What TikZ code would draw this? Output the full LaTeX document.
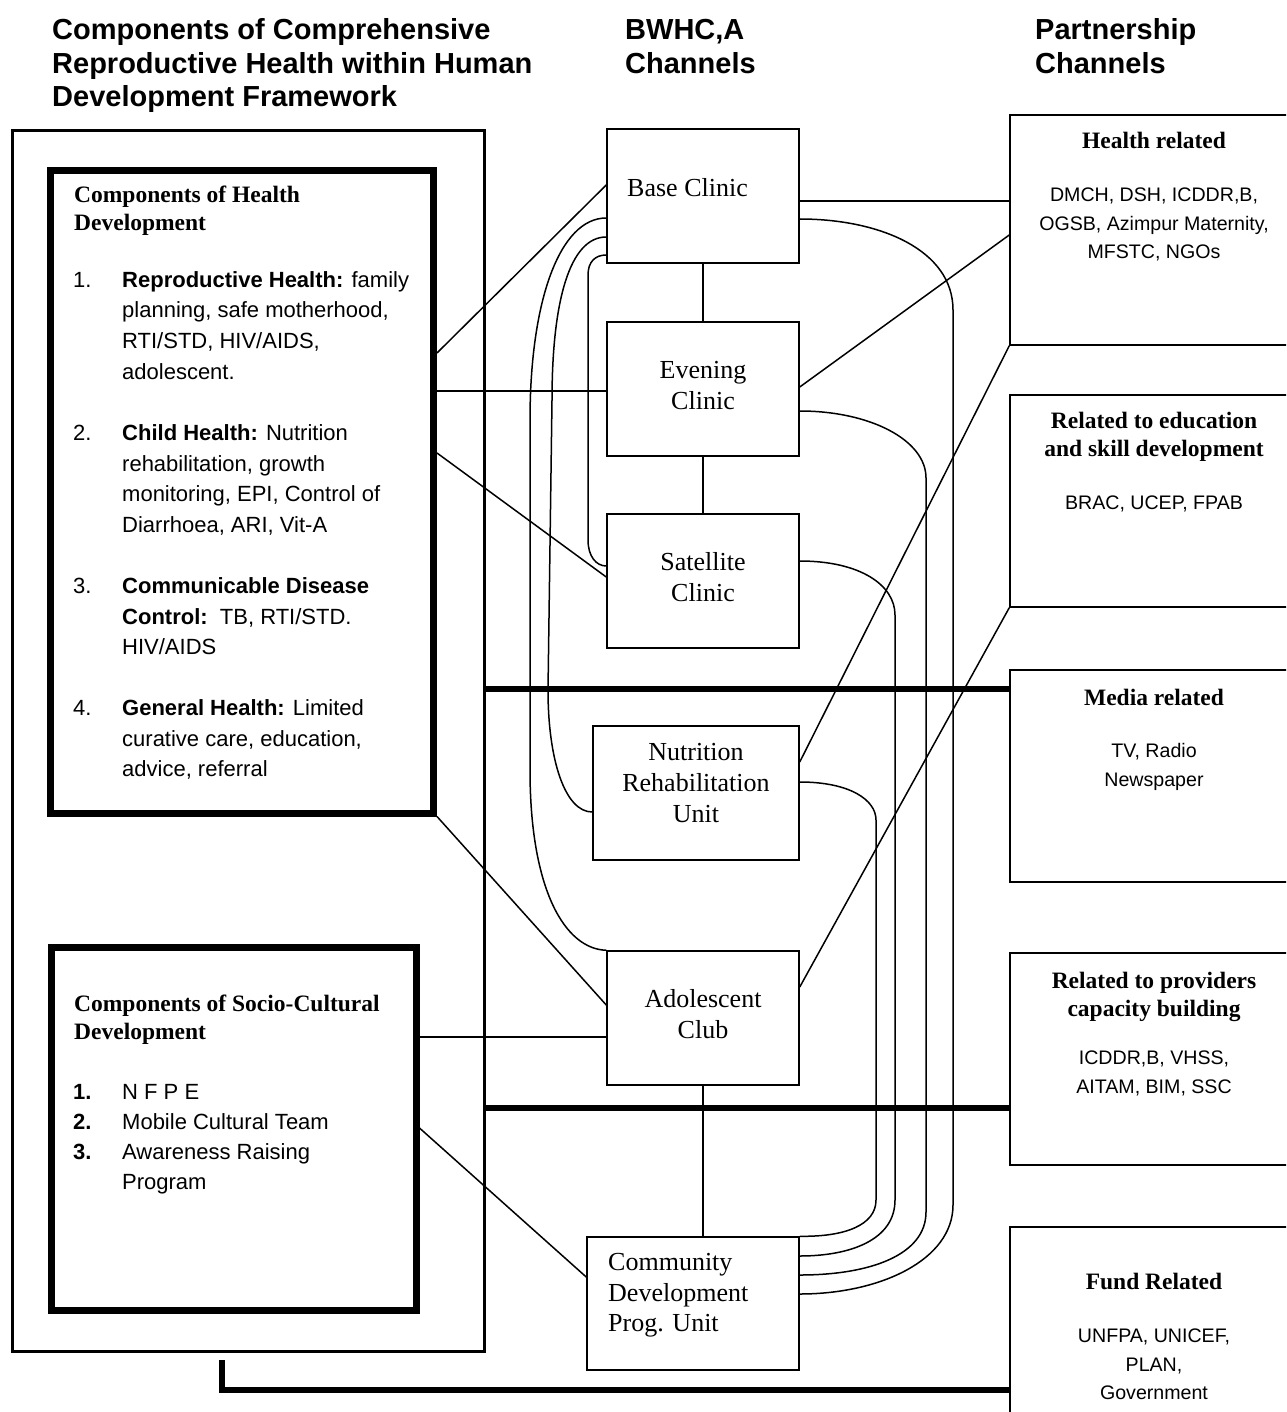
\documentclass[tikz,border=0pt]{standalone}
\usepackage{fontspec}
\setmainfont{Liberation Serif}
\setsansfont{Liberation Sans}
\begin{document}
\begin{tikzpicture}[x=1pt,y=-1pt,
  every node/.style={inner sep=0pt},
  box/.style={draw, line width=1.5pt},
  thickbox/.style={draw, line width=7pt},
  outerbox/.style={draw, line width=3pt},
  conn/.style={line width=1.5pt},
  heavy/.style={line width=5.5pt},
  ttl/.style={font=\fontsize{29}{33.5}\selectfont\sffamily\bfseries, align=left, anchor=north west},
  midtxt/.style={font=\fontsize{26}{31}\selectfont, align=center, anchor=north},
  hdg/.style={font=\fontsize{23.5}{28}\selectfont\bfseries, align=left, anchor=north west},
  lst/.style={font=\fontsize{22}{30.7}\selectfont\sffamily, align=left, anchor=north west},
  slst/.style={font=\fontsize{22}{30}\selectfont\sffamily, align=left, anchor=north west},
  rtitle/.style={font=\fontsize{23.5}{28}\selectfont\bfseries, align=center, anchor=north},
  rbody/.style={font=\fontsize{19.6}{28.5}\selectfont\sffamily, align=center, anchor=north},
]
\clip (0,0) rectangle (1286,1412);

% titles
\node[ttl] (t1) at (52,16) {\strut Components of Comprehensive\\Reproductive Health within Human\\Development Framework};
\node[ttl] (t2) at (625,16) {\strut BWHC,A\\Channels};
\node[ttl] (t3) at (1035,16) {\strut Partnership\\Channels};

% left boxes
\node[outerbox, minimum width=472pt, minimum height=1220pt] (outer) at (248,741) {};
\node[thickbox, minimum width=383pt, minimum height=642.5pt] (hd) at (242,491.75) {};
\node[thickbox, minimum width=365pt, minimum height=363pt] (sc) at (233.5,1128.5) {};

\node[hdg] (hdh) at (74,182.4) {\strut Components of Health\\Development};
\node[lst] (n1) at (73,265.5) {\strut 1.};
\node[lst] (i1) at (122,265.5) {\strut \textbf{Reproductive Health:} family\\planning, safe motherhood,\\RTI/STD, HIV/AIDS,\\adolescent.};
\node[lst] (n2) at (73,418.8) {\strut 2.};
\node[lst] (i2) at (122,418.8) {\strut \textbf{Child Health:} Nutrition\\rehabilitation, growth\\monitoring, EPI, Control of\\Diarrhoea, ARI, Vit-A};
\node[lst] (n3) at (73,571.8) {\strut 3.};
\node[lst] (i3) at (122,571.8) {\strut \textbf{Communicable Disease}\\\textbf{Control:}\ \ TB, RTI/STD.\\HIV/AIDS};
\node[lst] (n4) at (73,693.8) {\strut 4.};
\node[lst] (i4) at (122,693.8) {\strut \textbf{General Health:} Limited\\curative care, education,\\advice, referral};

\node[hdg] (sch) at (74,991.4) {\strut Components of Socio-Cultural\\Development};
\node[slst, font=\fontsize{22}{30}\selectfont\sffamily\bfseries] (sn) at (73,1078.3) {\strut 1.\\2.\\3.};
\node[slst] (st) at (122,1078.3) {\strut N F P E\\Mobile Cultural Team\\Awareness Raising\\Program};

% middle boxes
\node[box, minimum width=192pt, minimum height=134pt] (base) at (703,196) {};
\node[box, minimum width=192pt, minimum height=134pt] (even) at (703,389) {};
\node[box, minimum width=192pt, minimum height=134pt] (sat) at (703,581) {};
\node[box, minimum width=206pt, minimum height=134pt] (nut) at (696,793) {};
\node[box, minimum width=192pt, minimum height=134pt] (ado) at (703,1018) {};
\node[box, minimum width=212pt, minimum height=133pt] (cdu) at (693,1303.5) {};

\node[midtxt, anchor=north west] (baset) at (627,174.3) {\strut Base Clinic};
\node[midtxt] (event) at (703,356.3) {\strut Evening\\Clinic};
\node[midtxt] (satt) at (703,548.3) {\strut Satellite\\Clinic};
\node[midtxt] (nutt) at (696,738.3) {\strut Nutrition\\Rehabilitation\\Unit};
\node[midtxt] (adot) at (703,985.3) {\strut Adolescent\\Club};
\node[midtxt, align=left, anchor=north west, font=\fontsize{26}{30.3}\selectfont] (cdut) at (608,1249.3) {\strut Community\\Development\\Prog. Unit};

% right boxes
\node[box, minimum width=290pt, minimum height=230pt] (hr) at (1155,230) {};
\node[box, minimum width=290pt, minimum height=212pt] (edu) at (1155,501) {};
\node[box, minimum width=290pt, minimum height=212pt] (med) at (1155,776) {};
\node[box, minimum width=290pt, minimum height=212pt] (prov) at (1155,1059) {};
\node[box, minimum width=290pt, minimum height=203pt] (fund) at (1155,1328.5) {};

\node[rtitle] (hrt) at (1154,128.4) {\strut Health related};
\node[rbody] (hrb) at (1154,181.8) {\strut DMCH, DSH, ICDDR,B,\\OGSB, Azimpur Maternity,\\MFSTC, NGOs};
\node[rtitle] (edut) at (1154,408.4) {\strut Related to education\\and skill development};
\node[rbody] (edub) at (1154,489.5) {\strut BRAC, UCEP, FPAB};
\node[rtitle] (medt) at (1154,685.4) {\strut Media related};
\node[rbody] (medb) at (1154,737.5) {\strut TV, Radio\\Newspaper};
\node[rtitle] (provt) at (1154,968.4) {\strut Related to providers\\capacity building};
\node[rbody] (provb) at (1154,1044.5) {\strut ICDDR,B, VHSS,\\AITAM, BIM, SSC};
\node[rtitle] (fundt) at (1154,1269.4) {\strut Fund Related};
\node[rbody] (fundb) at (1154,1322.5) {\strut UNFPA, UNICEF,\\PLAN,\\Government};

% heavy lines
\coordinate (m1) at ([yshift=87pt]med.west);
\coordinate (p1) at ([yshift=-49pt]prov.west);
\coordinate (f1) at ([yshift=-61.5pt]fund.west);
\coordinate (b0) at ([xshift=-26pt,yshift=-7.5pt]outer.south);
\draw[heavy] (outer.east |- m1) -- (m1);
\draw[heavy] (outer.east |- p1) -- (p1);
\draw[heavy] (b0) |- (f1);

% left straight connectors
\draw[conn] ([yshift=138.75pt]hd.east) -- ([yshift=11pt]base.west);
\draw[conn] ([yshift=100.75pt]hd.east) -- ([yshift=-2pt]even.west);
\draw[conn] ([yshift=38.75pt]hd.east) -- ([yshift=4pt]sat.west);
\draw[conn] (hd.south east) -- ([yshift=13pt]ado.west);
\draw[conn] ([yshift=91.5pt]sc.east) -- ([yshift=-19pt]ado.west);
\draw[conn] ([yshift=0.5pt]sc.east) -- ([yshift=26.5pt]cdu.west);

% vertical connectors
\draw[conn] (base.south) -- (even.north);
\draw[conn] (even.south) -- (sat.north);
\draw[conn] (ado.south) -- (ado.south |- cdu.north);

% right straight connectors
\draw[conn] ([yshift=-5pt]base.east) -- ([yshift=29pt]hr.west);
\draw[conn] ([yshift=2pt]even.east) -- ([yshift=-5pt]hr.west);
\draw[conn] ([yshift=31pt]nut.east) -- (hr.south west);
\draw[conn] ([yshift=31pt]ado.east) -- (edu.south west);

% left curves
\draw[conn] ([yshift=-22pt]base.west) .. controls (560,218) and (530,300) .. (530,420) -- (530,770) .. controls (530,890) and (565,949) .. (ado.north west);
\draw[conn] ([yshift=-41pt]base.west) .. controls (570,237) and (552,300) .. (552,400) -- (548,690) .. controls (548,760) and (565,812) .. ([yshift=-19pt]nut.west);
\draw[conn] ([yshift=-59pt]base.west) .. controls (595,255) and (588,262) .. (588,275) -- (588,540) .. controls (588,556) and (596,566) .. ([yshift=15pt]sat.west);

% right curves
\draw[conn] ([yshift=-23pt]base.east) .. controls (880,219) and (953,250) .. (953,310) -- (953,1205) .. controls (953,1260) and (880,1294) .. ([yshift=9.5pt]cdu.east);
\draw[conn] ([yshift=-22pt]even.east) .. controls (870,411) and (926,440) .. (926,478) -- (926,1212) .. controls (926,1255) and (870,1275) .. ([yshift=28.5pt]cdu.east);
\draw[conn] ([yshift=20pt]sat.east) .. controls (860,561) and (895,585) .. (895,615) -- (895,1200) .. controls (895,1240) and (850,1256) .. ([yshift=47.5pt]cdu.east);
\draw[conn] ([yshift=11pt]nut.east) .. controls (850,782) and (876,800) .. (876,820) -- (876,1200) .. controls (876,1225) and (845,1237) .. (cdu.north east);
\end{tikzpicture}
\end{document}
